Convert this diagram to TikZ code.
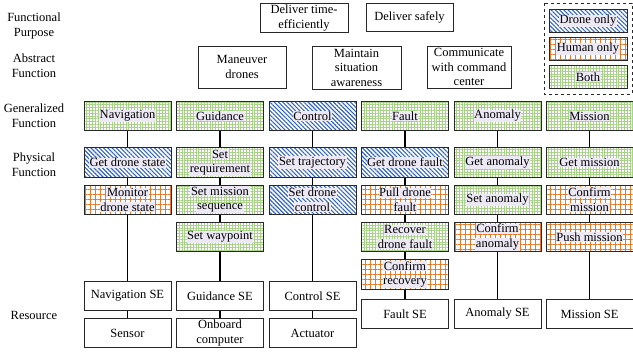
\documentclass[tikz,border=0pt]{standalone}
\usepackage{fontspec}
\setmainfont{Liberation Serif}
\usepackage{xcolor}
\usepackage{tikz}
\usetikzlibrary{positioning, patterns.meta}
\definecolor{mydark}{RGB}{40,40,40}
\definecolor{dronblue}{RGB}{50,100,200}
\definecolor{humorange}{RGB}{232,120,42}
\definecolor{bothgreen}{RGB}{168,210,138}
\definecolor{textbg}{RGB}{236,232,244}
\newcommand{\hl}[1]{{\setlength{\fboxsep}{0.6pt}\colorbox{textbg}{#1}}}
\tikzset{
  plainbox/.style={rectangle, draw=mydark, fill=white, line width=0.8pt,
    minimum width=87pt, minimum height=29.5pt, inner sep=1pt,
    align=center, font=\fontsize{12.5}{14.5}\selectfont},
  dronebox/.style={plainbox, pattern={Lines[angle=-45, distance=3pt, line width=1.1pt]},
    pattern color=dronblue},
  humanbox/.style={plainbox, pattern={Hatch[angle=0, distance=5pt, line width=0.6pt]},
    pattern color=humorange},
  bothbox/.style={plainbox, pattern={Hatch[angle=0, distance=2.8pt, line width=0.75pt]},
    pattern color=bothgreen},
  rowlabel/.style={align=center, font=\fontsize{12.5}{15}\selectfont},
  link/.style={line width=1.2pt, color=black}
}

\begin{document}
\begin{tikzpicture}[x=1pt, y=-1pt, node distance=7pt]
  \useasboundingbox (0,0) rectangle (633,354);

  % Row labels
  \node[rowlabel] (lfp) at (34,26) {Functional\\Purpose};
  \node[rowlabel] (laf) at (34,66) {Abstract\\Function};
  \node[rowlabel] (lgf) at (34,116) {Generalized\\Function};
  \node[rowlabel] (lpf) at (34,165) {Physical\\Function};
  \node[rowlabel] (lres) at (34,315) {Resource};

  % Functional purpose
  \node[plainbox, minimum width=88pt] (fp1) at (304,18) {Deliver time-\\efficiently};
  \node[plainbox, minimum width=87pt, minimum height=28pt] (fp2) at (409.5,17) {Deliver safely};

  % Abstract function
  \node[plainbox, minimum width=88pt, minimum height=42pt] (af1) at (242,67) {Maneuver\\drones};
  \node[plainbox, minimum width=89pt, minimum height=43pt] (af2) at (356.5,67.5) {Maintain\\situation\\awareness};
  \node[plainbox, minimum width=84pt, minimum height=42pt] (af3) at (469,67) {Communicate\\with command\\center};

  % Legend
  \draw[mydark, dashed, line width=0.7pt] (544,3) rectangle (632,94);
  \node[dronebox, minimum width=78pt, minimum height=23pt] (legd) at (588,21) {\hl{Drone only}};
  \node[humanbox, minimum width=78pt, minimum height=23pt] (legh) at (588,49) {\hl{Human only}};
  \node[bothbox, minimum width=78pt, minimum height=23pt] (legb) at (588,77) {\hl{Both}};

  % Generalized function
  \node[bothbox] (nav) at (127.5,116) {\hl{Navigation}};
  \node[bothbox] (gui) at (220,116) {\hl{Guidance}};
  \node[dronebox] (con) at (312.5,116) {\hl{Control}};
  \node[bothbox] (flt) at (405,116) {\hl{Fault}};
  \node[bothbox] (ano) at (497.5,116) {\hl{Anomaly}};
  \node[bothbox] (mis) at (589.5,116) {\hl{Mission}};

  % Physical function
  \node[dronebox] (nav1) at (127.5,162.5) {\hl{Get drone state}};
  \node[humanbox, below=of nav1] (nav2) {\hl{Monitor}\\\hl{drone state}};

  \node[bothbox] (gui1) at (220,162.5) {\hl{Set}\\\hl{requirement}};
  \node[bothbox, below=of gui1] (gui2) {\hl{Set mission}\\\hl{sequence}};
  \node[bothbox, below=of gui2] (gui3) {\hl{Set waypoint}};

  \node[dronebox] (con1) at (312.5,162.5) {\hl{Set trajectory}};
  \node[dronebox, below=of con1] (con2) {\hl{Set drone}\\\hl{control}};

  \node[dronebox] (flt1) at (405,162.5) {\hl{Get drone fault}};
  \node[humanbox, below=of flt1] (flt2) {\hl{Pull drone}\\\hl{fault}};
  \node[bothbox, below=of flt2] (flt3) {\hl{Recover}\\\hl{drone fault}};
  \node[humanbox, below=of flt3] (flt4) {\hl{Confirm}\\\hl{recovery}};

  \node[bothbox] (ano1) at (497.5,162.5) {\hl{Get anomaly}};
  \node[bothbox, below=of ano1] (ano2) {\hl{Set anomaly}};
  \node[humanbox, below=of ano2] (ano3) {\hl{Confirm}\\\hl{anomaly}};

  \node[bothbox] (mis1) at (589.5,162.5) {\hl{Get mission}};
  \node[humanbox, below=of mis1] (mis2) {\hl{Confirm}\\\hl{mission}};
  \node[humanbox, below=of mis2] (mis3) {\hl{Push mission}};

  % Resource
  \node[plainbox] (navse) at (127.5,296) {Navigation SE};
  \node[plainbox] (guise) at (220,296) {Guidance SE};
  \node[plainbox] (conse) at (312.5,296) {Control SE};
  \node[plainbox] (fltse) at (405,314) {Fault SE};
  \node[plainbox] (anose) at (497.5,314) {Anomaly SE};
  \node[plainbox] (misse) at (589.5,314) {Mission SE};
  \node[plainbox] (sens) at (127.5,333) {Sensor};
  \node[plainbox] (comp) at (220,333) {Onboard\\computer};
  \node[plainbox] (act) at (312.5,333) {Actuator};

  % Links
  \draw[link] (nav) -- (nav1) -- (nav2) -- (navse) -- (sens);
  \draw[link] (gui) -- (gui1) -- (gui2) -- (gui3) -- (guise) -- (comp);
  \draw[link] (con) -- (con1) -- (con2) -- (conse) -- (act);
  \draw[link] (flt) -- (flt1) -- (flt2) -- (flt3) -- (flt4) -- (fltse);
  \draw[link] (ano) -- (ano1) -- (ano2) -- (ano3) -- (anose);
  \draw[link] (mis) -- (mis1) -- (mis2) -- (mis3) -- (misse);
\end{tikzpicture}
\end{document}
